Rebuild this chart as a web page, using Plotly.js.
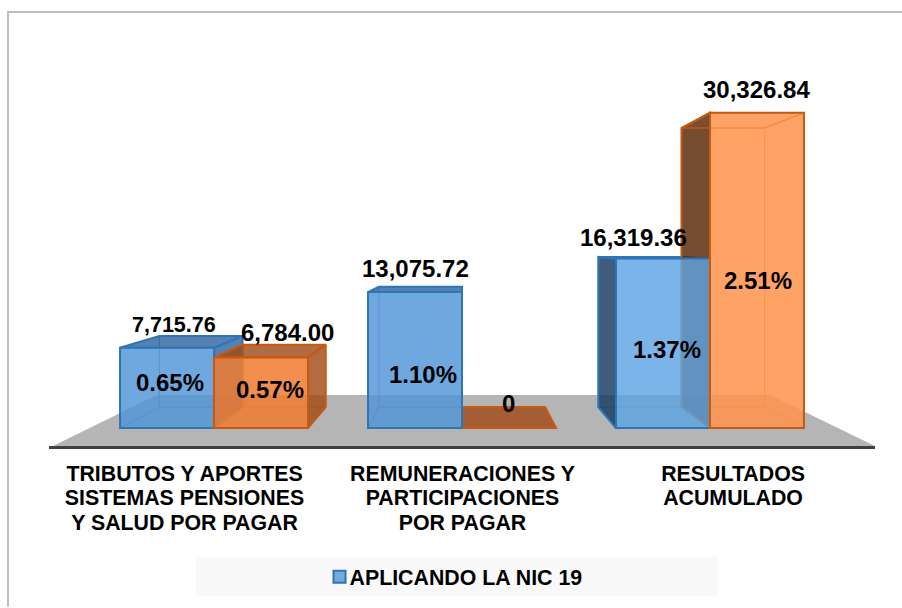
<!DOCTYPE html>
<html>
<head>
<meta charset="utf-8">
<script src="https://cdn.plot.ly/plotly-3.0.1.min.js"></script>
<style>html,body{margin:0;padding:0;background:#fff}#chart{width:902px;height:608px}</style>
</head>
<body>
<div id="chart"></div>
<script>
// ---- data ----
const categories = [
  "TRIBUTOS Y APORTES<br>SISTEMAS PENSIONES<br>Y SALUD POR PAGAR",
  "REMUNERACIONES Y<br>PARTICIPACIONES<br>POR PAGAR",
  "RESULTADOS<br>ACUMULADO"
];
const seriesName = "APLICANDO LA NIC 19";
const blueValues = [7715.76, 13075.72, 16319.36];
const orangeValues = [6784.00, 0, 30326.84];
const bluePercent = ["0.65%", "1.10%", "1.37%"];
const orangePercent = ["0.57%", "", "2.51%"];
const blueLabels = ["7,715.76", "13,075.72", "16,319.36"];
const orangeLabels = ["6,784.00", "0", "30,326.84"];

// ---- perspective of the fake 3-D view (axis-unit geometry) ----
const VX = 0.9927, VV = 17562;      // vanishing point, in x units and value units
const FRONT = 0.905, BACK = 0.801, FAR = 0.7416, NEAR = 0.994;
const HALF = 0.379;                 // bar width at the axis plane
const FLOOR_X = [-0.502, 2.516];
const project = (x, v, s) => [VX + (x - 1) * s, VV + (v - VV) * s / FRONT];

// ---- styles ----
const FONT = "Liberation Sans";
const BLUE = {edge:"#2e75b6", inner:"rgba(46,117,182,0.10)", innerEdge:"rgba(46,117,182,0.45)",
              dark:"rgba(21,56,95,0.8)", mid:"rgba(46,100,160,0.8)",
              front:["rgba(80,150,215,0.8)","rgba(80,150,215,0.8)","rgba(95,165,228,0.8)"]};
const ORANGE = {edge:"#c55a11", inner:"rgba(197,90,17,0.08)", innerEdge:"rgba(225,110,30,0.6)",
              dark:"rgba(82,34,0,0.8)", mid:"rgba(161,74,24,0.8)",
              front:["rgba(240,125,50,0.85)","rgba(240,125,50,0.85)","rgba(255,148,78,0.85)"]};

const traces = [];
const polygon = (pts, fill, line, width) => traces.push({
  type:"scatter", mode:"lines", fill:"toself", fillcolor:fill, hoverinfo:"skip", showlegend:false,
  x:pts.map(p=>p[0]).concat(pts[0][0]), y:pts.map(p=>p[1]).concat(pts[0][1]),
  line:{color:line, width:width}
});

// floor
polygon([project(FLOOR_X[0],0,NEAR),project(FLOOR_X[1],0,NEAR),project(FLOOR_X[1],0,FAR),project(FLOOR_X[0],0,FAR)],"#b5b5b5","#b5b5b5",0);

// depth faces of one box, computed from its value
function box(x0, x1, v, c) {
  const f = (x,y)=>project(x,y,FRONT), b = (x,y)=>project(x,y,BACK);
  polygon([b(x0,0),b(x1,0),b(x1,v),b(x0,v)], c.inner, c.innerEdge, 1);               // back wall
  polygon([f(x0,0),f(x1,0),b(x1,0),b(x0,0)], c.inner, c.innerEdge, 1);               // bottom
  const leftOutward = f(x0,0)[0] > b(x0,0)[0];
  const rightOutward = b(x1,0)[0] > f(x1,0)[0];
  const topOutward = b(x0,v)[1] > f(x0,v)[1];
  if (v > 0) {
    polygon([f(x0,0),f(x0,v),b(x0,v),b(x0,0)], leftOutward?c.dark:c.inner, leftOutward?c.edge:c.innerEdge, leftOutward?2:1);
    polygon([f(x1,0),f(x1,v),b(x1,v),b(x1,0)], rightOutward?c.mid:c.inner, rightOutward?c.edge:c.innerEdge, rightOutward?2:1);
  }
  polygon([f(x0,v),f(x1,v),b(x1,v),b(x0,v)], topOutward?c.mid:c.inner, c.edge, topOutward?2:1.5);
}
categories.forEach((_, i) => box(i - HALF, i, blueValues[i], BLUE));
categories.forEach((_, i) => box(i, i + HALF, orangeValues[i], ORANGE));

// front faces: real bars on an overlaid subplot, so they sit over the depth faces
const barWidth = HALF * FRONT;
const blueX = categories.map((_, i) => project(i - HALF / 2, 0, FRONT)[0]);
const orangeX = categories.map((_, i) => project(i + HALF / 2, 0, FRONT)[0]);
traces.push({type:"bar", name:seriesName, x:blueX, y:blueValues, width:barWidth, xaxis:"x2", yaxis:"y2",
  marker:{color:BLUE.front, line:{color:BLUE.edge, width:2}}, showlegend:true, hoverinfo:"y"});
traces.push({type:"bar", name:"orange", x:orangeX, y:orangeValues, width:barWidth, xaxis:"x2", yaxis:"y2",
  marker:{color:ORANGE.front, line:{color:ORANGE.edge, width:2}}, showlegend:false, hoverinfo:"y"});

// labels
const label = (x, y, text, size, dx, dy) => ({x, y, text, xref:"x", yref:"y", showarrow:false, xanchor:"center", yanchor:"middle",
  xshift:dx, yshift:dy, font:{family:FONT, size, color:"#000", weight:700}});
const annotations = [];
const valueShift = {blue:[[7,23],[0,24],[-29,21]], orange:[[26,25],[0,25],[0,23]]};
const pctShift = {blue:[[3,5],[8,-14],[4.5,-6]], orange:[[9,3],[0,0],[1,-10]]};
categories.forEach((_, i) => {
  annotations.push(label(blueX[i], blueValues[i], blueLabels[i], i===0?21.5:24, valueShift.blue[i][0], valueShift.blue[i][1]));
  annotations.push(label(orangeX[i], orangeValues[i], orangeLabels[i], 24, valueShift.orange[i][0], valueShift.orange[i][1]));
  annotations.push(label(blueX[i], blueValues[i]/2, bluePercent[i], 24, pctShift.blue[i][0], pctShift.blue[i][1]));
  if (orangePercent[i]) annotations.push(label(orangeX[i], orangeValues[i]/2, orangePercent[i], 24, pctShift.orange[i][0], pctShift.orange[i][1]));
});

const W = 902, H = 608, L = 53, R = 27, T = 12, B = 161;
const px = v => (v - L) / (W - L - R), py = v => 1 - (v - T) / (H - T - B);
const range = {x:[-0.5, 2.5], y:[-1727, 40019]};
const tickPositions = [-0.02, 0.9945, 1.982];

const layout = {
  width:W, height:H, margin:{l:L, r:R, t:T, b:B}, paper_bgcolor:"#fff", plot_bgcolor:"rgba(0,0,0,0)",
  barmode:"overlay", hovermode:false,
  xaxis:{range:range.x, tickmode:"array", tickvals:tickPositions, ticktext:categories, ticks:"outside", ticklen:6, tickcolor:"rgba(0,0,0,0)",
    tickfont:{family:FONT, size:21.33, color:"#000", weight:700}, showgrid:false, zeroline:false,
    showline:true, linecolor:"#404040", linewidth:3, fixedrange:true},
  yaxis:{range:range.y, visible:false, fixedrange:true},
  xaxis2:{range:range.x, overlaying:"x", visible:false, fixedrange:true},
  yaxis2:{range:range.y, overlaying:"y", visible:false, fixedrange:true},
  annotations,
  shapes:[
    {type:"line", xref:"paper", yref:"paper", x0:px(7), x1:px(902), y0:py(12), y1:py(12), line:{color:"#bfbfbf", width:2}},
    {type:"line", xref:"paper", yref:"paper", x0:px(8), x1:px(8), y0:py(11), y1:py(608), line:{color:"#bfbfbf", width:2}},
    {type:"line", xref:"paper", yref:"paper", x0:px(49), x1:px(54), y0:py(448.5), y1:py(448.5), line:{color:"#404040", width:3}},
    {type:"rect", xref:"paper", yref:"paper", x0:px(196), x1:px(718), y0:py(558), y1:py(597), fillcolor:"#f9f9f9", line:{width:0}, layer:"below"}
  ],
  legend:{x:px(319.5), xanchor:"left", y:py(577), yanchor:"middle", bgcolor:"rgba(0,0,0,0)", borderwidth:0,
    font:{family:FONT, size:21.33, color:"#000", weight:700}}
};

Plotly.newPlot("chart", traces, layout, {displayModeBar:false, staticPlot:true}).then(gd => {
  // tighten the gap between the swatch and its text, as in the reference
  gd.querySelectorAll(".legendtext").forEach(t => t.setAttribute("x", 30));
  // the reference's tick labels have a tighter line spacing than Plotly's default
  gd.querySelectorAll(".xtick text tspan.line").forEach(t => {
    const n = parseFloat(t.getAttribute("dy")) / 1.3;
    if (n > 0) t.setAttribute("dy", (n * 1.15) + "em");
  });
});
</script>
</body>
</html>
